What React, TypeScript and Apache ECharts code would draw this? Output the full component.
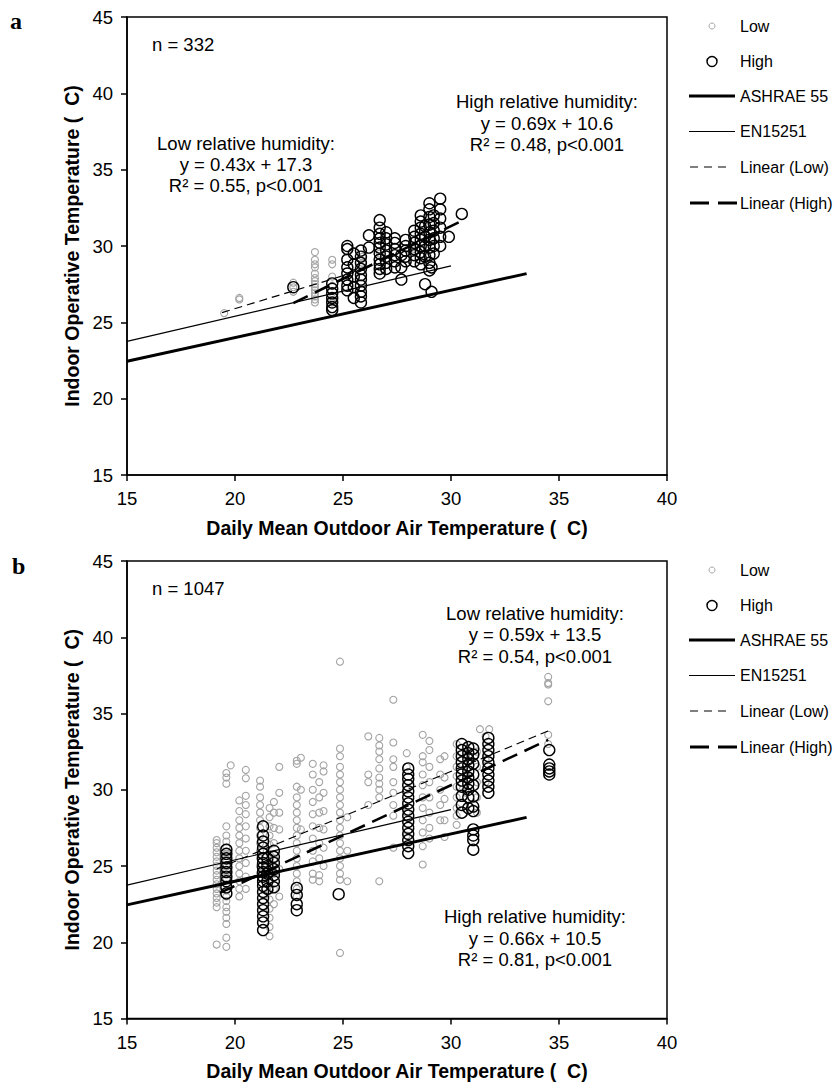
import React, { useEffect, useRef } from "react";
import * as echarts from "echarts";

// ---------- DATA ----------
// Column form: [outdoor temperature, [indoor temperatures...]]
type Col = [number, number[]];

// Panel a – low relative humidity
const lowA: Col[] = [
  [19.5, [25.6]],
  [20.2, [26.5, 26.6]],
  [22.7, [27.0, 27.3, 27.6]],
  [23.7, [26.3, 26.5, 26.7, 26.9, 27.1, 27.3, 27.5, 27.7, 27.9, 28.2, 28.6, 28.8, 29.1, 29.6]],
  [24.5, [26.3, 26.6, 27.4, 28.0, 28.8, 29.1]],
  [25.9, [28.9, 29.3]],
  [26.7, [29.5]],
  [28.3, [29.8]],
];

// Panel a – high relative humidity
const highA: Col[] = [
  [22.7, [27.3]],
  [24.5, [25.8, 26.0, 26.3, 26.6, 26.9, 27.2, 27.55]],
  [25.2, [27.1, 27.4, 27.8, 28.2, 28.6, 29.1, 29.8, 30.0]],
  [25.5, [26.6, 27.3, 28.0, 28.8, 29.5]],
  [25.83, [26.3, 26.7, 27.0, 27.4, 27.8, 28.1, 28.5, 28.9, 29.3, 29.7]],
  [26.2, [29.9, 30.7]],
  [26.7, [28.2, 28.5, 28.8, 29.1, 29.5, 29.9, 30.2, 30.5, 30.8, 31.2, 31.7]],
  [27.0, [28.5, 28.9, 29.3, 29.7, 30.1, 30.5, 30.9]],
  [27.4, [28.6, 29.0, 29.4, 29.8, 30.2, 30.5]],
  [27.7, [27.8, 28.6, 29.4]],
  [27.9, [29.0, 29.3, 29.7, 30.0, 30.4]],
  [28.3, [29.0, 29.4, 29.8, 30.2, 30.6, 31.0]],
  [28.6, [28.8, 29.2, 29.6, 30.0, 30.4, 30.8, 31.2, 31.6, 32.0]],
  [28.8, [27.5, 29.3, 30.0, 30.6, 31.3]],
  [29.0, [28.4, 28.9, 29.4, 29.9, 30.4, 30.9, 31.4, 31.9, 32.4, 32.8]],
  [29.1, [27.0, 28.6]],
  [29.2, [29.5, 30.0, 30.5, 31.0, 31.5, 32.0]],
  [29.5, [30.0, 30.6, 31.2, 31.8, 32.4, 33.1]],
  [29.9, [30.6]],
  [30.5, [32.1]],
];

// Panel b – low relative humidity
const lowB: Col[] = [
  [19.15, [19.85, 22.3, 22.6, 22.9, 23.2, 23.5, 23.8, 24.1, 24.4, 24.7, 25.0, 25.3, 25.6, 25.9, 26.2, 26.5, 26.7]],
  [19.6, [19.7, 20.3, 21.2, 21.6, 22.0, 22.3, 22.7, 23.0, 23.4, 23.8, 24.2, 24.6, 25.0, 25.4, 25.8, 26.2, 26.6, 27.0, 27.6, 30.4, 30.8, 31.1]],
  [19.8, [31.6]],
  [20.2, [23.0, 23.5, 24.0, 24.5, 25.0, 25.5, 26.0, 26.5, 27.0, 27.5, 28.0, 28.6, 29.3]],
  [20.5, [23.5, 24.3, 25.2, 26.0, 26.8, 27.6, 28.4, 29.0, 29.6, 30.75, 31.3]],
  [21.16, [24.5, 25.0, 25.5, 26.0, 26.5, 27.0, 27.5, 28.0, 28.5, 29.0, 29.5, 30.2, 30.6]],
  [21.6, [20.4, 21.0, 21.6, 22.2, 22.8, 23.4, 24.0, 24.6, 25.2, 25.8, 26.4, 27.0, 27.6, 28.2, 28.8]],
  [21.8, [22.5, 23.5, 24.5, 25.5, 26.5, 27.5, 28.5, 29.2]],
  [22.05, [23.0, 24.8, 27.4, 28.5, 29.8, 31.5]],
  [22.86, [23.0, 23.5, 24.0, 24.5, 25.0, 25.5, 26.0, 26.5, 27.0, 27.5, 28.0, 28.5, 29.0, 29.5, 30.2, 31.7, 31.9]],
  [23.05, [27.4, 30.0, 32.1]],
  [23.6, [24.1, 24.5, 25.3, 26.0, 26.8, 27.6, 28.4, 29.2, 30.0, 31.0, 31.7]],
  [23.9, [24.0, 24.4, 25.5, 26.5, 27.5, 28.5, 29.5, 30.5]],
  [24.1, [25.0, 26.2, 27.4, 28.6, 29.8, 31.2, 31.6]],
  [24.86, [19.3, 24.1, 24.5, 25.0, 25.5, 26.0, 26.5, 27.0, 27.5, 28.0, 28.5, 29.0, 29.5, 30.0, 30.5, 31.0, 31.5, 32.2, 32.7, 38.4]],
  [25.2, [24.0, 26.0, 28.2]],
  [26.17, [29.0, 30.5, 31.0, 33.5]],
  [26.68, [24.0, 29.5, 30.0, 30.4, 30.8, 31.4, 32.0, 32.5, 32.9, 33.4]],
  [27.33, [26.2, 28.3, 29.0, 29.8, 30.5, 31.5, 32.0, 33.1, 35.9]],
  [27.95, [27.0, 28.5, 30.0, 31.5, 32.4]],
  [28.69, [25.1, 26.3, 27.2, 28.0, 28.8, 29.5, 30.3, 31.0, 31.8, 32.2, 33.6]],
  [29.0, [26.8, 27.5, 28.5, 29.5, 30.5, 31.5, 32.6, 33.2]],
  [29.5, [28.0, 29.0, 30.0, 31.0, 32.0]],
  [29.7, [26.9, 28.0, 29.4, 30.8, 32.2]],
  [30.26, [27.7, 28.3, 28.8, 29.5, 30.2, 30.9, 31.5, 32.2, 33.0]],
  [30.7, [29.8, 30.4, 31.0, 31.6, 32.2, 32.8]],
  [31.2, [28.5, 29.5, 30.5, 31.5, 32.5]],
  [31.34, [33.97]],
  [31.6, [30.5, 32.0, 33.5]],
  [31.77, [33.97]],
  [34.5, [33.0, 33.6, 35.8, 36.9, 37.0, 37.4]],
];

// Panel b – high relative humidity
const highB: Col[] = [
  [19.6, [23.2, 23.6, 24.0, 24.3, 24.6, 24.9, 25.2, 25.5, 25.8, 26.07]],
  [21.3, [20.8, 21.3, 21.7, 22.1, 22.5, 22.9, 23.3, 23.7, 24.0, 24.3, 24.6, 24.9, 25.2, 25.5, 25.8, 26.2, 26.6, 27.0, 27.6]],
  [21.5, [23.5, 24.0, 24.5, 25.0, 25.5]],
  [21.8, [23.6, 24.0, 24.4, 24.8, 25.2, 25.6, 26.0]],
  [22.86, [22.1, 22.5, 23.1, 23.56]],
  [24.8, [23.15]],
  [28.02, [25.85, 26.3, 26.7, 27.1, 27.5, 27.9, 28.3, 28.7, 29.1, 29.5, 29.9, 30.3, 30.7, 31.0, 31.4]],
  [30.5, [28.5, 29.0, 29.6, 30.2, 30.6, 31.0, 31.4, 31.8, 32.2, 32.6, 33.0]],
  [30.8, [28.8, 29.5, 30.0, 30.4, 30.8, 31.2, 31.6, 32.0, 32.4, 32.8]],
  [31.03, [26.07, 26.7, 27.0, 27.4, 28.6, 28.9, 29.56, 30.3, 31.0, 31.7, 32.3, 32.7]],
  [31.73, [29.8, 30.2, 30.6, 31.0, 31.4, 31.8, 32.2, 32.6, 33.0, 33.4]],
  [34.55, [31.0, 31.2, 31.4, 31.65, 32.6]],
];

// Reference lines (endpoints)
const ashrae55: [number, number][] = [[15, 22.45], [33.5, 28.19]];
const en15251: [number, number][] = [[15, 23.75], [30, 28.7]];
const linLowA: [number, number][] = [[19.4, 25.64], [26.0, 28.48]];
const linHighA: [number, number][] = [[22.7, 26.26], [30.5, 31.65]];
const linLowB: [number, number][] = [[19.15, 24.8], [34.5, 33.86]];
const linHighB: [number, number][] = [[19.3, 23.24], [34.5, 33.27]];

const xTicks = { min: 15, max: 40, interval: 5 };
const yTicks = { min: 15, max: 45, interval: 5 };

const legendLabels = ["Low", "High", "ASHRAE 55", "EN15251", "Linear (Low)", "Linear (High)"];
const xTitle = "Daily Mean Outdoor Air Temperature (  C)";
const yTitle = "Indoor Operative Temperature (  C)";

// ---------- LAYOUT ----------
const FONT = "'Liberation Sans', Arial, Helvetica, sans-serif";
const SERIF = "'Liberation Serif', 'Times New Roman', serif";
const GRID_LEFT = 127;
const GRID_W = 540;
const GRID_H = 458;
const PANEL_TOPS = [17, 561];
const LOW_COLOR = "#a3a3a3";

function expand(cols: Col[]): [number, number][] {
  const out: [number, number][] = [];
  cols.forEach(([x, ys]) => ys.forEach((y) => out.push([x, y])));
  return out;
}

function legendGraphics(T: number) {
  const rows = [9, 44.5, 79, 114.5, 150, 186];
  const els: any[] = [];
  const textX = 740;
  legendLabels.forEach((lab, i) => {
    els.push({
      type: "text",
      x: textX,
      y: T + rows[i],
      style: { text: lab, fontSize: 16, fontFamily: FONT, fill: "#000", align: "left", verticalAlign: "middle" },
    });
  });
  els.push({ type: "circle", shape: { cx: 712, cy: T + rows[0], r: 3 }, style: { fill: "none", stroke: LOW_COLOR, lineWidth: 1 } });
  els.push({ type: "circle", shape: { cx: 712, cy: T + rows[1], r: 5 }, style: { fill: "none", stroke: "#000", lineWidth: 1.5 } });
  els.push({ type: "line", shape: { x1: 689, y1: T + rows[2], x2: 735, y2: T + rows[2] }, style: { stroke: "#000", lineWidth: 3 } });
  els.push({ type: "line", shape: { x1: 689, y1: T + rows[3], x2: 735, y2: T + rows[3] }, style: { stroke: "#000", lineWidth: 1.2 } });
  els.push({ type: "line", shape: { x1: 690, y1: T + rows[4], x2: 726, y2: T + rows[4] }, style: { stroke: "#000", lineWidth: 1.2, lineDash: [8, 6] } });
  els.push({ type: "line", shape: { x1: 690, y1: T + rows[5], x2: 737, y2: T + rows[5] }, style: { stroke: "#000", lineWidth: 3, lineDash: [19, 9] } });
  return els;
}

function textBlock(lines: string[], cx: number, y0: number, lh: number) {
  return lines.map((t, i) => ({
    type: "text",
    x: cx,
    y: y0 + i * lh,
    style: { text: t, fontSize: 18.5, fontFamily: FONT, fill: "#000", align: "center", verticalAlign: "middle" },
  }));
}

export default function App() {
  const ref = useRef<HTMLDivElement>(null);

  useEffect(() => {
    if (!ref.current) return;
    const chart = echarts.init(ref.current, null, { renderer: "svg" });

    const grids = PANEL_TOPS.map((top) => ({
      left: GRID_LEFT,
      top,
      width: GRID_W,
      height: GRID_H,
      show: true,
      borderColor: "#000",
      borderWidth: 1.5,
      backgroundColor: "transparent",
      containLabel: false,
    }));

    const xAxes = PANEL_TOPS.map((_, i) => ({
      gridIndex: i,
      type: "value",
      ...xTicks,
      name: xTitle,
      nameLocation: "middle",
      nameGap: 42.5,
      nameTextStyle: { fontSize: 19.5, fontWeight: "bold", fontFamily: FONT, color: "#000" },
      axisLine: { show: true, onZero: false, lineStyle: { color: "#000", width: 1.5 } },
      axisTick: { show: true, length: 6, lineStyle: { color: "#000", width: 1.5 } },
      axisLabel: { fontSize: 18.5, fontFamily: FONT, color: "#000", margin: 14 },
      splitLine: { show: false },
    }));

    const yAxes = PANEL_TOPS.map((_, i) => ({
      gridIndex: i,
      type: "value",
      ...yTicks,
      name: yTitle,
      nameLocation: "middle",
      nameGap: 45.5,
      nameTextStyle: { fontSize: 19.5, fontWeight: "bold", fontFamily: FONT, color: "#000" },
      axisLine: { show: true, onZero: false, lineStyle: { color: "#000", width: 1.5 } },
      axisTick: { show: true, length: 6, lineStyle: { color: "#000", width: 1.5 } },
      axisLabel: { fontSize: 18.5, fontFamily: FONT, color: "#000", margin: 14 },
      splitLine: { show: false },
    }));

    const scatter = (data: [number, number][], idx: number, high: boolean) => ({
      type: "scatter",
      xAxisIndex: idx,
      yAxisIndex: idx,
      data,
      symbol: "circle",
      symbolSize: high ? 11 : 7,
      itemStyle: {
        color: "rgba(0,0,0,0)",
        borderColor: high ? "#000" : LOW_COLOR,
        borderWidth: high ? 1.4 : 1.1,
        opacity: 1,
      },
      z: high ? 3 : 2,
      silent: true,
    });

    const line = (data: [number, number][], idx: number, width: number, type: any) => ({
      type: "line",
      xAxisIndex: idx,
      yAxisIndex: idx,
      data,
      symbol: "none",
      showSymbol: false,
      lineStyle: { color: "#000", width, type },
      z: 5,
      silent: true,
    });

    const series = [
      scatter(expand(lowA), 0, false),
      scatter(expand(highA), 0, true),
      line(ashrae55, 0, 3, "solid"),
      line(en15251, 0, 1.2, "solid"),
      line(linLowA, 0, 1.2, [8, 5]),
      line(linHighA, 0, 2.6, [16, 8]),
      scatter(expand(lowB), 1, false),
      scatter(expand(highB), 1, true),
      line(ashrae55, 1, 3, "solid"),
      line(en15251, 1, 1.2, "solid"),
      line(linLowB, 1, 1.2, [8, 5]),
      line(linHighB, 1, 2.6, [16, 8]),
    ];

    const graphics: any[] = [
      { type: "text", x: 10, y: 21, style: { text: "a", fontSize: 24, fontWeight: "bold", fontFamily: SERIF, fill: "#000", align: "left", verticalAlign: "middle" } },
      { type: "text", x: 12, y: 566, style: { text: "b", fontSize: 24, fontWeight: "bold", fontFamily: SERIF, fill: "#000", align: "left", verticalAlign: "middle" } },
      { type: "text", x: 152, y: PANEL_TOPS[0] + 27, style: { text: "n = 332", fontSize: 18.5, fontFamily: FONT, fill: "#000", align: "left", verticalAlign: "middle" } },
      { type: "text", x: 152, y: PANEL_TOPS[1] + 27, style: { text: "n = 1047", fontSize: 18.5, fontFamily: FONT, fill: "#000", align: "left", verticalAlign: "middle" } },
      ...textBlock(["High relative humidity:", "y = 0.69x + 10.6", "R² = 0.48, p<0.001"], 547, 101.7, 21.3),
      ...textBlock(["Low relative humidity:", "y = 0.43x + 17.3", "R² = 0.55, p<0.001"], 246, 143, 21.3),
      ...textBlock(["Low relative humidity:", "y = 0.59x + 13.5", "R² = 0.54, p<0.001"], 535, 613.5, 21.3),
      ...textBlock(["High relative humidity:", "y = 0.66x + 10.5", "R² = 0.81, p<0.001"], 535, 916.7, 21.3),
      ...legendGraphics(PANEL_TOPS[0]),
      ...legendGraphics(PANEL_TOPS[1]),
    ];

    chart.setOption({
      animation: false,
      backgroundColor: "#fff",
      grid: grids,
      xAxis: xAxes,
      yAxis: yAxes,
      series,
      graphic: graphics,
    });

    return () => chart.dispose();
  }, []);

  return (
    <div
      ref={ref}
      style={{ position: "absolute", left: 0, top: 0, width: 835, height: 1082 }}
    />
  );
}
